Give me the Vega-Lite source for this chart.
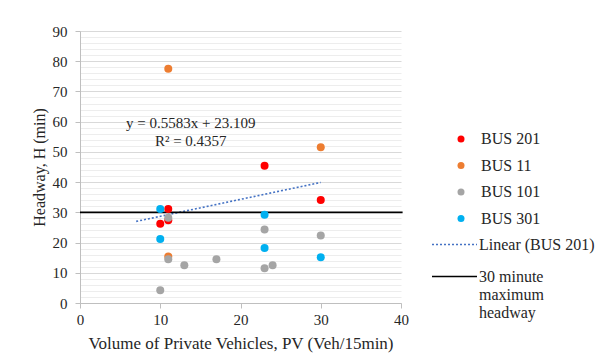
{
  "$schema": "https://vega.github.io/schema/vega-lite/v6.json",
  "width": 321,
  "height": 272,
  "autosize": {"type": "none"},
  "padding": {"left": 80, "top": 31, "right": 196, "bottom": 61},
  "background": "white",
  "config": {
    "view": {"stroke": null},
    "font": "Liberation Serif",
    "text": {"font": "Liberation Serif"},
    "axis": {
      "labelFont": "Liberation Serif",
      "titleFont": "Liberation Serif",
      "labelFontSize": 15,
      "titleFontSize": 16,
      "titleFontWeight": "normal",
      "labelColor": "#262626",
      "titleColor": "#262626",
      "domainColor": "#bfbfbf",
      "tickColor": "#bfbfbf",
      "tickSize": 5,
      "labelFlush": false
    },
    "legend": {
      "labelFont": "Liberation Serif",
      "labelFontSize": 16,
      "labelColor": "#262626",
      "labelLimit": 200
    }
  },
  "datasets": {
    "points": [
      {"pv": 10, "h": 26.2, "bus": "BUS 201"},
      {"pv": 11, "h": 31.1, "bus": "BUS 201"},
      {"pv": 11, "h": 27.4, "bus": "BUS 201"},
      {"pv": 23, "h": 45.4, "bus": "BUS 201"},
      {"pv": 30, "h": 34.1, "bus": "BUS 201"},
      {"pv": 11, "h": 77.5, "bus": "BUS 11"},
      {"pv": 11, "h": 15.4, "bus": "BUS 11"},
      {"pv": 30, "h": 51.5, "bus": "BUS 11"},
      {"pv": 10, "h": 4.2, "bus": "BUS 101"},
      {"pv": 11, "h": 28.2, "bus": "BUS 101"},
      {"pv": 11, "h": 14.5, "bus": "BUS 101"},
      {"pv": 13, "h": 12.5, "bus": "BUS 101"},
      {"pv": 17, "h": 14.5, "bus": "BUS 101"},
      {"pv": 23, "h": 24.3, "bus": "BUS 101"},
      {"pv": 23, "h": 11.5, "bus": "BUS 101"},
      {"pv": 24, "h": 12.5, "bus": "BUS 101"},
      {"pv": 30, "h": 22.3, "bus": "BUS 101"},
      {"pv": 10, "h": 31.1, "bus": "BUS 301"},
      {"pv": 10, "h": 21.2, "bus": "BUS 301"},
      {"pv": 23, "h": 29.2, "bus": "BUS 301"},
      {"pv": 23, "h": 18.2, "bus": "BUS 301"},
      {"pv": 30, "h": 15.1, "bus": "BUS 301"}
    ],
    "lines": [
      {"pv": 7, "h": 27.0, "series": "Linear (BUS 201)"},
      {"pv": 30, "h": 39.9, "series": "Linear (BUS 201)"},
      {"pv": 0, "h": 30, "series": "30 minute maximum headway"},
      {"pv": 40.2, "h": 30, "series": "30 minute maximum headway"}
    ],
    "notes": [
      {"pv": 13.8, "h": 59.6, "text": "y = 0.5583x + 23.109"},
      {"pv": 13.8, "h": 53.6, "text": "R² = 0.4357"}
    ]
  },
  "encoding": {
    "x": {"field": "pv", "type": "quantitative", "scale": {"domain": [0, 40], "nice": false},
          "axis": {"values": [0, 10, 20, 30, 40], "grid": false, "title": "Volume of Private Vehicles, PV (Veh/15min)",
                   "titleFontSize": 17, "titlePadding": 8, "labelPadding": 4, "labelFlush": false}},
    "y": {
      "field": "h", "type": "quantitative", "scale": {"domain": [0, 90], "nice": false},
      "axis": {
        "values": [0,2,4,6,8,10,12,14,16,18,20,22,24,26,28,30,32,34,36,38,40,42,44,46,48,50,52,54,56,58,60,62,64,66,68,70,72,74,76,78,80,82,84,86,88,90],
        "grid": true,
        "gridColor": {"condition": {"test": "datum.value % 10 === 0", "value": "#d9d9d9"}, "value": "#ededed"},
        "tickOpacity": {"condition": {"test": "datum.value % 10 === 0", "value": 1}, "value": 0},
        "labelFontSize": {"condition": {"test": "datum.value % 10 === 0", "value": 15}, "value": 0},
        "labelExpr": "datum.value % 10 === 0 ? datum.label : ''",
        "labelOverlap": false,
        "labelFlush": false,
        "title": "Headway, H (min)", "labelPadding": 8, "titlePadding": 5
      }
    }
  },
  "layer": [
    {
      "data": {"name": "notes"},
      "mark": {"type": "text", "font": "Liberation Serif", "fontSize": 15, "color": "#262626", "align": "center", "baseline": "middle"},
      "encoding": {
        "text": {"field": "text", "type": "nominal"}
      }
    },
    {
      "data": {"name": "lines"},
      "mark": {"type": "line", "clip": false, "strokeWidth": 1.6},
      "encoding": {
        "detail": {"field": "series", "type": "nominal"},
        "stroke": {"field": "series", "type": "nominal",
                   "scale": {"domain": ["Linear (BUS 201)", "30 minute maximum headway"], "range": ["#4472c4", "#000000"]},
                   "legend": {"title": null, "orient": "none", "legendX": 351, "legendY": 190, "symbolType": "stroke", "symbolSize": 2025, "symbolStrokeWidth": 1.6, "labelOffset": 1, "rowPadding": 0,
                              "labelExpr": "datum.label == '30 minute maximum headway' ? ['30 minute', 'maximum', 'headway'] : datum.label"}},
        "strokeDash": {"field": "series", "type": "nominal",
                       "scale": {"domain": ["Linear (BUS 201)", "30 minute maximum headway"], "range": [[2, 2], [1, 0]]},
                       "legend": {"title": null, "orient": "none", "legendX": 351, "legendY": 190, "symbolType": "stroke", "symbolSize": 2025, "symbolStrokeWidth": 1.6, "labelOffset": 1, "rowPadding": 0,
                              "labelExpr": "datum.label == '30 minute maximum headway' ? ['30 minute', 'maximum', 'headway'] : datum.label"}}
      }
    },
    {
      "data": {"name": "points"},
      "mark": {"type": "circle", "size": 64, "opacity": 1},
      "encoding": {
        "color": {"field": "bus", "type": "nominal",
                  "scale": {"domain": ["BUS 201", "BUS 11", "BUS 101", "BUS 301"], "range": ["#ff0000", "#ed7d31", "#a5a5a5", "#00b0f0"]},
                  "legend": {"title": null, "orient": "none", "legendX": 373, "legendY": 100, "symbolType": "circle", "symbolSize": 49, "labelOffset": 12, "rowPadding": 10.5}}
      }
    }
  ]
}
